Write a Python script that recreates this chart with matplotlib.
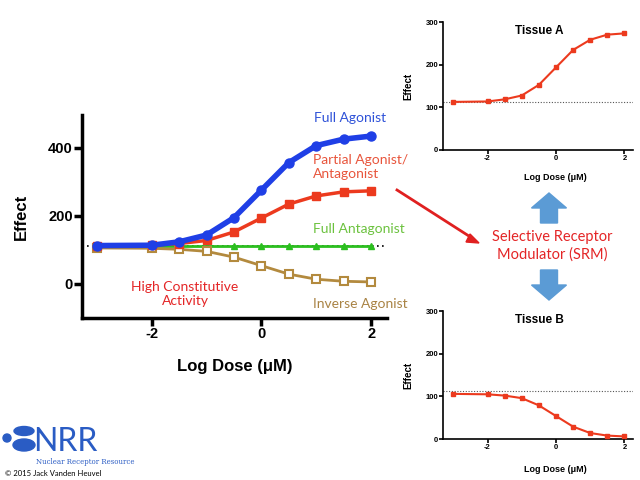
import matplotlib
matplotlib.use("Agg")
import matplotlib.pyplot as plt
from matplotlib.patches import Polygon, Ellipse

plt.rcParams['axes.unicode_minus'] = False

# data
log_dose = [-3, -2, -1.5, -1, -0.5, 0, 0.5, 1, 1.5, 2]
full_agonist = [113, 114, 124, 144, 195, 276, 357, 407, 426, 435]
partial_agonist = [113, 114, 119, 128, 153, 194, 235, 259, 271, 274]
full_antagonist = [113, 113, 113, 113, 113, 113, 113, 113, 113, 113]
inverse_agonist = [106, 105, 102, 96, 79, 54, 29, 14, 8, 6]
baseline = 113

main_xticks = [-2, 0, 2]
main_yticks = [0, 200, 400]
tissue_yticks = [0, 100, 200, 300]

BLUE = "#1f3fe6"
RED = "#ec3a1e"
GREEN = "#2bbf1f"
BROWN = "#b38a3e"
ANNOT = "Lato"
AXFONT = "Liberation Sans"

W, H = 640, 480


def fx(px):
    return px / W


def fy(py):
    return 1 - py / H


def style_axes(ax, lw, ticklen, fs, pad):
    for s in ["top", "right"]:
        ax.spines[s].set_visible(False)
    for s in ["left", "bottom"]:
        ax.spines[s].set_linewidth(lw)
    ax.tick_params(width=lw, length=ticklen, labelsize=fs, pad=pad)
    for lab in ax.get_xticklabels() + ax.get_yticklabels():
        lab.set_fontweight("bold")
        lab.set_fontfamily(AXFONT)


fig = plt.figure(figsize=(6.4, 4.8), dpi=100)

# ---- main chart ----
ax = fig.add_axes([fx(82), fy(318), fx(387 - 82), (318 - 115) / H])
ax.axhline(baseline, color="black", ls=(0, (1, 2)), lw=1.2, zorder=1)
ax.plot(log_dose, full_antagonist, color=GREEN, lw=2, marker="^", ms=5, zorder=2)
ax.plot(log_dose, inverse_agonist, color=BROWN, lw=2, marker="s", ms=6,
        mfc="white", mew=1.5, zorder=3)
ax.plot(log_dose, partial_agonist, color=RED, lw=2.5, marker="s", ms=6, zorder=4)
ax.plot(log_dose, full_agonist, color=BLUE, lw=4, marker="o", ms=6.5, zorder=5)
ax.set_xlim(-3.27, 2.29)
ax.set_ylim(-100, 497)
ax.set_xticks(main_xticks)
ax.set_yticks(main_yticks)
style_axes(ax, 2.5, 6, 10.5, 0.5)
ax.set_xlabel("Log Dose (\u03bcM)", fontsize=12, fontweight="bold", family=AXFONT, labelpad=13)
ax.set_ylabel("Effect", fontsize=12, fontweight="bold", family=AXFONT, labelpad=14)

fig.text(fx(314), fy(118), "Full Agonist", color="#2f52d8", fontsize=10, family=ANNOT, va="center")
fig.text(fx(313), fy(167), "Partial Agonist/\nAntagonist", color="#e8553c", fontsize=10,
         family=ANNOT, va="center", linespacing=1.25)
fig.text(fx(313), fy(229), "Full Antagonist", color="#6cc23f", fontsize=10, family=ANNOT, va="center")
fig.text(fx(185), fy(294), "High Constitutive\nActivity", color="#e42526", fontsize=10,
         family=ANNOT, va="center", ha="center", linespacing=1.25)
fig.text(fx(313), fy(304), "Inverse Agonist", color="#a98344", fontsize=10, family=ANNOT, va="center")

# ---- tissue panels ----
for name, values, top, bottom, xlab_y in [("Tissue A", partial_agonist, 22.3, 150, 178),
                                          ("Tissue B", inverse_agonist, 311.3, 439, 470)]:
    tax = fig.add_axes([fx(443), fy(bottom), fx(633 - 443), (bottom - top) / H])
    tax.axhline(baseline, color="#555555", ls=(0, (1, 1.5)), lw=0.8, zorder=1)
    tax.plot(log_dose, values, color=RED, lw=1.5, marker="s", ms=3.5, zorder=3)
    tax.set_xlim(-3.3, 2.25)
    tax.set_ylim(0, 300)
    tax.set_xticks(main_xticks)
    tax.set_yticks(tissue_yticks)
    style_axes(tax, 1.2, 3, 5.5, 0.5)
    tax.set_ylabel("Effect", fontsize=7, fontweight="bold", family=AXFONT, labelpad=9)
    fig.text(fx(555), fy(xlab_y), "Log Dose (\u03bcM)", fontsize=6.5, fontweight="bold",
             family=AXFONT, ha="center", va="center")
    fig.text(fx(539), fy(top + 9), name, fontsize=8.5, fontweight="bold",
             family=AXFONT, ha="center", va="center")

# ---- SRM label and arrows ----
fig.text(fx(552), fy(246), "Selective Receptor\nModulator (SRM)", color="#e42526", fontsize=10.5,
         family=ANNOT, ha="center", va="center", linespacing=1.3)
fig.add_artist(plt.Line2D([fx(397), fx(472)], [fy(190), fy(238)], color="#e02020", lw=2))
fig.add_artist(Polygon([[fx(470), fy(234)], [fx(479), fy(243)], [fx(466), fy(242)]],
                       closed=True, color="#e02020", transform=fig.transFigure))


def block_arrow(cx, y_base, y_tip, y_neck):
    pts = [(cx - 8.5, y_base), (cx + 8.5, y_base), (cx + 8.5, y_neck), (cx + 17.5, y_neck),
           (cx, y_tip), (cx - 17.5, y_neck), (cx - 8.5, y_neck)]
    fig.add_artist(Polygon([[fx(x), fy(y)] for x, y in pts], closed=True,
                           color="#5b9bd5", transform=fig.transFigure))


block_arrow(549, 223, 193, 208)
block_arrow(549, 270, 300, 285)

# ---- logo ----
logo_blue = "#2a5cc4"
for x, y, w, h in [(7, 438, 8, 8), (24, 431, 20, 9), (24, 445, 22, 12)]:
    fig.add_artist(Ellipse((fx(x), fy(y)), fx(w), h / H, color=logo_blue, transform=fig.transFigure))
fig.text(fx(33), fy(451), "NRR", color=logo_blue, fontsize=23, family="Lato",
         va="baseline", ha="left")
fig.text(fx(36), fy(462), "Nuclear Receptor Resource", color=logo_blue, fontsize=5,
         family="DejaVu Serif", va="center")
fig.text(fx(5), fy(473), "\u00a9 2015 Jack Vanden Heuvel", color="black", fontsize=5.5,
         family=ANNOT, va="center")

fig.savefig("out.png", dpi=100)
